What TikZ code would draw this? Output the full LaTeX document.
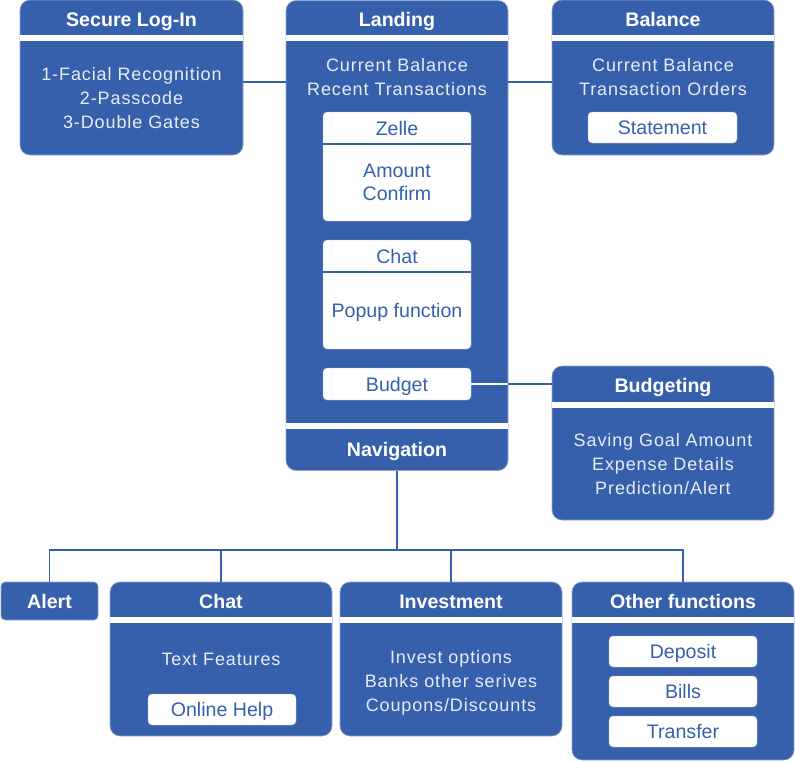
\documentclass[tikz,border=0pt]{standalone}
\usepackage{fontspec}
\setmainfont{Liberation Sans}
\newfontfamily\lightfont[LetterSpace=5]{Liberation Sans}
\definecolor{bankblue}{RGB}{54,96,172}
\definecolor{softwhite}{RGB}{234,236,244}

\begin{document}
\begin{tikzpicture}[x=1pt, y=-1pt,
    panel/.style={fill=bankblue, draw=bankblue!55!white, line width=0.6pt, rounded corners=10pt, inner sep=0pt},
    strip/.style={fill=white},
    head/.style={anchor=base, text=white, font=\bfseries\fontsize{19.6}{22}\selectfont},
    body/.style={anchor=base, text=softwhite, font=\lightfont\fontsize{18}{24}\selectfont},
    tab/.style={fill=white, draw=bankblue!40!white, line width=0.4pt, rounded corners=4pt, inner sep=0pt,
        text=bankblue, font=\fontsize{19.6}{23}\selectfont, text height=14pt, text depth=0pt},
    tabtext/.style={anchor=base, text=bankblue, font=\fontsize{19.6}{23}\selectfont},
    link/.style={draw=bankblue, line width=1.5pt}]
    \useasboundingbox (0,0) rectangle (795,761);

    % panels
    \node[panel, minimum width=223pt, minimum height=155pt] (login) at (131.5,77.5) {};
    \node[panel, minimum width=222pt, minimum height=470pt] (landing) at (397,235.5) {};
    \node[panel, minimum width=222pt, minimum height=155pt] (balance) at (663,77.5) {};
    \node[panel, minimum width=222pt, minimum height=154pt] (budgeting) at (663,443) {};
    \node[panel, rounded corners=4pt, minimum width=97pt, minimum height=38pt] (alert) at (49.5,601) {};
    \node[panel, minimum width=222pt, minimum height=154pt] (chat) at (221,659) {};
    \node[panel, minimum width=222pt, minimum height=154pt] (invest) at (451,659) {};
    \node[panel, minimum width=222pt, minimum height=178pt] (other) at (683,671) {};

    % header strips
    \fill[strip] (login.west |- 0,35) rectangle (login.east |- 0,41);
    \fill[strip] (landing.west |- 0,35) rectangle (landing.east |- 0,41);
    \fill[strip] (landing.west |- 0,423) rectangle (landing.east |- 0,429);
    \fill[strip] (balance.west |- 0,35) rectangle (balance.east |- 0,41);
    \fill[strip] (budgeting.west |- 0,402) rectangle (budgeting.east |- 0,408);
    \fill[strip] (chat.west |- 0,617) rectangle (chat.east |- 0,623);
    \fill[strip] (invest.west |- 0,617) rectangle (invest.east |- 0,623);
    \fill[strip] (other.west |- 0,617) rectangle (other.east |- 0,623);

    % titles
    \node[head] (login-t) at (131.5,26) {Secure Log-In};
    \node[head] (landing-t) at (397,26) {Landing};
    \node[head] (nav-t) at (397,456) {Navigation};
    \node[head] (balance-t) at (663,26) {Balance};
    \node[head] (budgeting-t) at (663,392) {Budgeting};
    \node[head] (alert-t) at (49.5,608) {Alert};
    \node[head] (chat-t) at (221,608) {Chat};
    \node[head] (invest-t) at (451,608) {Investment};
    \node[head] (other-t) at (683,608) {Other functions};

    % body texts
    \foreach \txt [count=\i] in {1-Facial Recognition, 2-Passcode, 3-Double Gates}
        \node[body] (login-\i) at (131.5,56+24*\i) {\txt};
    \foreach \txt [count=\i] in {Current Balance, Recent Transactions}
        \node[body] (landing-\i) at (397,47+24*\i) {\txt};
    \foreach \txt [count=\i] in {Current Balance, Transaction Orders}
        \node[body] (balance-\i) at (663,47+24*\i) {\txt};
    \foreach \txt [count=\i] in {Saving Goal Amount, Expense Details, Prediction/Alert}
        \node[body] (budgeting-\i) at (663,422+24*\i) {\txt};
    \node[body] (chat-1) at (221,665) {Text Features};
    \foreach \txt [count=\i] in {Invest options, Banks other serives, Coupons/Discounts}
        \node[body] (invest-\i) at (451,639+24*\i) {\txt};

    % white tabs
    \node[tab, minimum width=148pt, minimum height=109pt] (zelle) at (397,166.5) {};
    \draw[bankblue, line width=1.5pt] ([yshift=-32pt]zelle.north west) -- ([yshift=-32pt]zelle.north east);
    \node[tabtext] (zelle-t) at (397,135) {Zelle};
    \node[tabtext] (zelle-1) at (397,177) {Amount};
    \node[tabtext] (zelle-2) at (397,200) {Confirm};
    \node[tab, minimum width=148pt, minimum height=109pt] (popup) at (397,294.5) {};
    \draw[bankblue, line width=1.5pt] ([yshift=-32pt]popup.north west) -- ([yshift=-32pt]popup.north east);
    \node[tabtext] (popup-t) at (397,263) {Chat};
    \node[tabtext] (popup-1) at (397,317) {Popup function};
    \node[tab, minimum width=148pt, minimum height=32pt] (budget) at (397,384) {Budget};
    \node[tab, minimum width=149pt, minimum height=31pt] (statement) at (662.5,127.5) {Statement};
    \node[tab, minimum width=148pt, minimum height=31pt] (help) at (222,709.5) {Online Help};
    \node[tab, minimum width=148pt, minimum height=31pt] (deposit) at (683,651.5) {Deposit};
    \node[tab, minimum width=148pt, minimum height=31pt] (bills) at (683,691.5) {Bills};
    \node[tab, minimum width=148pt, minimum height=31pt] (transfer) at (683,731.5) {Transfer};

    % connectors
    \draw[link] ([yshift=-4.5pt]login.east) -- ([yshift=-4.5pt]login.east -| landing.west);
    \draw[link] ([yshift=-4.5pt]balance.west) -- ([yshift=-4.5pt]balance.west -| landing.east);
    \draw[white, line width=1.5pt] (budget.east) -- (budget.east -| landing.east);
    \draw[link] (budget.east -| landing.east) -- (budget.east -| budgeting.west);
    \coordinate (hub) at (397,550);
    \draw[link] (landing.south) -- (hub);
    \draw[link] (alert.north) |- (hub -| other.north) -- (other.north);
    \draw[link] (hub -| chat.north) -- (chat.north);
    \draw[link] (hub -| invest.north) -- (invest.north);
\end{tikzpicture}
\end{document}
